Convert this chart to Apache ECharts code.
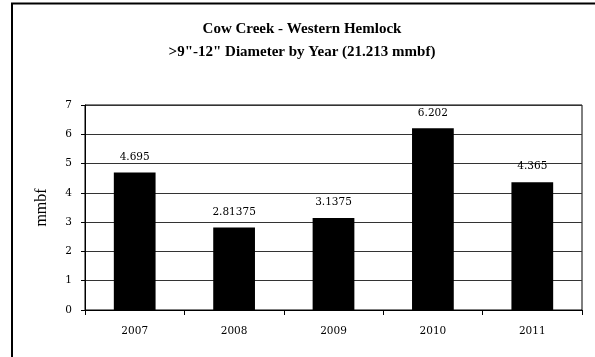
<!DOCTYPE html>
<html>
<head>
<meta charset="utf-8">
<script src="https://cdn.jsdelivr.net/npm/echarts@6/dist/echarts.min.js"></script>
<style>html,body{margin:0;padding:0;background:#fff}#c{width:595px;height:357px}</style>
</head>
<body>
<div id="c"></div>
<script>
var categories = ['2007', '2008', '2009', '2010', '2011'];
var values = [4.695, 2.81375, 3.1375, 6.202, 4.365];
var valueLabels = ['4.695', '2.81375', '3.1375', '6.202', '4.365'];
var yTicks = [0, 1, 2, 3, 4, 5, 6, 7];

var chart = echarts.init(document.getElementById('c'), null, {renderer: 'canvas'});
var serif = '"Liberation Serif", "Times New Roman", serif';
var wideSerif = '"DejaVu Serif", serif';
chart.setOption({
  animation: false,
  backgroundColor: '#fff',
  title: {
    text: 'Cow Creek - Western Hemlock\n>9"-12" Diameter by Year (21.213 mmbf)',
    left: 297, top: 13, textAlign: 'center',
    textStyle: {fontFamily: serif, fontWeight: 'bold', fontSize: 15, lineHeight: 23, color: '#000'}
  },
  graphic: [{
    type: 'rect', shape: {x: 12, y: 3.5, width: 600, height: 400},
    style: {fill: null, stroke: '#000', lineWidth: 2}, silent: true
  }],
  grid: {left: 85, right: 13, top: 105, bottom: 47, show: true, borderColor: '#000', borderWidth: 1, backgroundColor: '#fff'},
  xAxis: {
    type: 'category', data: categories,
    axisLine: {lineStyle: {color: '#000', width: 1}},
    axisTick: {show: true, length: 5, inside: false, lineStyle: {color: '#000'}},
    axisLabel: {fontFamily: wideSerif, fontSize: 10.5, color: '#000', margin: 16}
  },
  yAxis: {
    type: 'value', min: yTicks[0], max: yTicks[yTicks.length - 1], interval: 1,
    name: 'mmbf', nameLocation: 'middle', nameGap: 35, nameRotate: 90,
    nameTextStyle: {fontFamily: serif, fontSize: 16, color: '#000'},
    axisLine: {show: true, lineStyle: {color: '#000'}},
    axisTick: {show: true, length: 4, lineStyle: {color: '#000'}},
    axisLabel: {fontFamily: wideSerif, fontSize: 10.5, color: '#000', margin: 13},
    splitLine: {show: true, lineStyle: {color: '#333', width: 1}}
  },
  series: [{
    type: 'bar', data: values, barWidth: '42%',
    itemStyle: {color: '#000'},
    label: {
      show: true, position: 'top', distance: 10,
      fontFamily: wideSerif, fontSize: 10.5, color: '#000',
      formatter: function (p) { return valueLabels[p.dataIndex]; }
    }
  }]
});
</script>
</body>
</html>
